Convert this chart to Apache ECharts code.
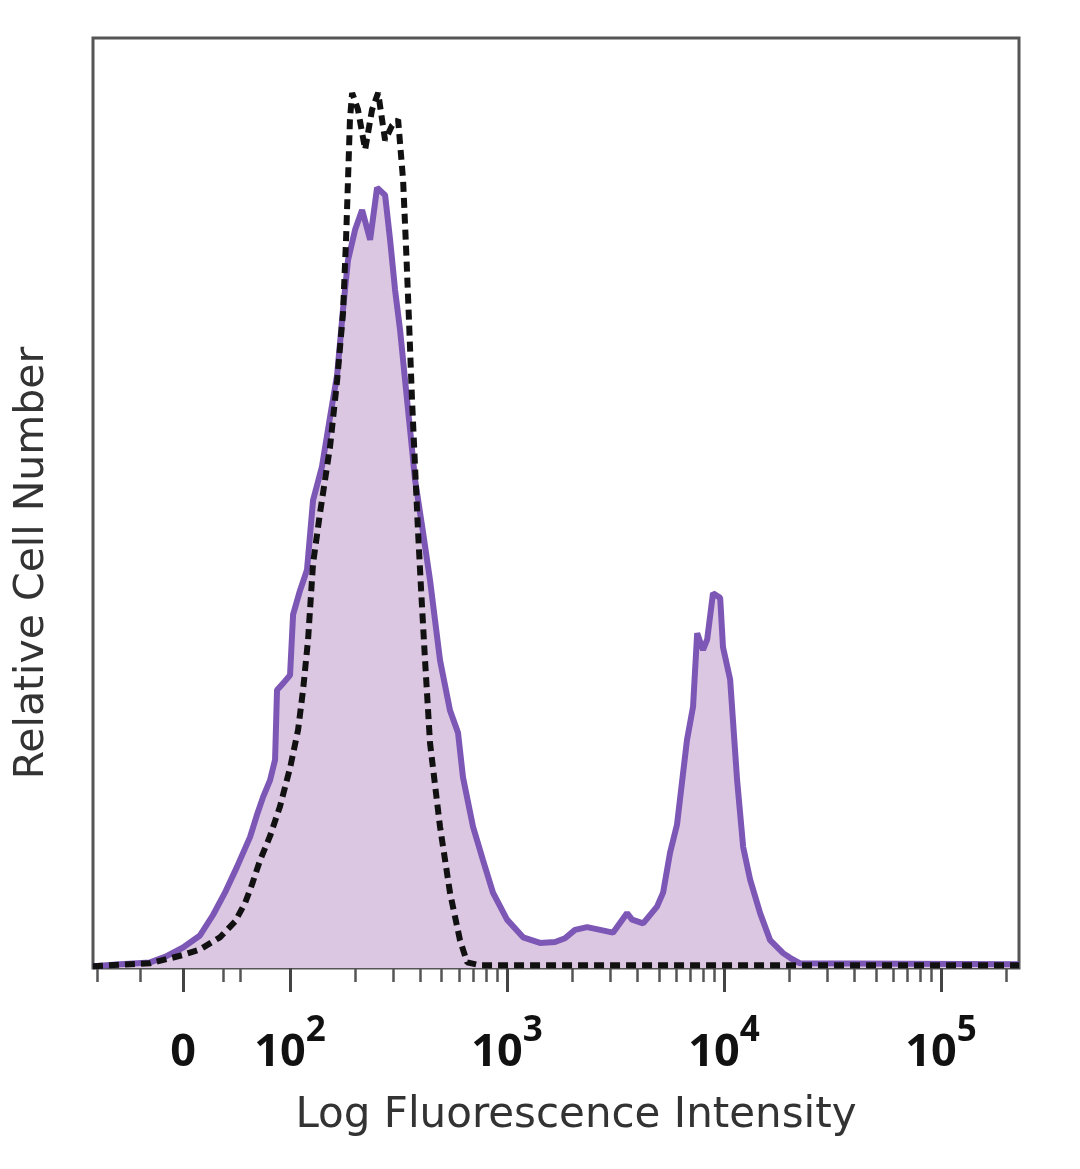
<!DOCTYPE html>
<html>
<head>
<meta charset="utf-8">
<script src="https://cdn.jsdelivr.net/npm/echarts@6/dist/echarts.min.js"></script>
<style>
  html, body { margin: 0; padding: 0; background: #fff; }
  #chart { width: 1080px; height: 1169px; }
</style>
</head>
<body>
<div id="chart"></div>
<script>
// x = display position in decades (10^2 -> 2, 10^3 -> 3 ...), y = relative cell count
const stainedX = [1.092, 1.217, 1.355, 1.424, 1.507, 1.585, 1.645, 1.700, 1.756, 1.816, 1.848, 1.876, 1.908, 1.931, 1.940, 1.968, 2.000, 2.014, 2.046, 2.078, 2.106, 2.147, 2.184, 2.217, 2.244, 2.267, 2.300, 2.332, 2.369, 2.401, 2.438, 2.461, 2.484, 2.507, 2.530, 2.553, 2.576, 2.613, 2.645, 2.691, 2.737, 2.774, 2.797, 2.843, 2.889, 2.935, 3.000, 3.074, 3.152, 3.221, 3.267, 3.313, 3.369, 3.429, 3.488, 3.553, 3.576, 3.627, 3.691, 3.719, 3.751, 3.783, 3.829, 3.857, 3.876, 3.903, 3.922, 3.949, 3.982, 3.995, 4.028, 4.060, 4.088, 4.120, 4.166, 4.212, 4.272, 4.304, 4.350, 5.359]
const stainedY = [0.2, 0.4, 0.6, 1.2, 2.2, 3.5, 5.7, 8.1, 10.9, 14.1, 16.5, 18.4, 20.2, 22.4, 29.9, 30.6, 31.5, 38.0, 40.6, 42.8, 50.3, 53.9, 59.2, 63.8, 70.8, 76.1, 79.4, 81.5, 78.3, 83.9, 83.1, 78.3, 72.9, 68.6, 63.2, 57.9, 52.5, 46.8, 41.7, 33.1, 27.7, 25.3, 20.5, 15.2, 11.6, 8.1, 5.2, 3.3, 2.7, 2.8, 3.2, 4.1, 4.4, 4.1, 3.8, 5.9, 5.2, 4.8, 6.6, 8.1, 12.4, 15.4, 24.5, 28.1, 36.0, 34.2, 35.3, 40.3, 39.8, 34.5, 31.0, 20.2, 13.0, 9.5, 5.9, 3.0, 1.6, 1.1, 0.5, 0.4]

const isotypeX = [1.092, 1.355, 1.507, 1.585, 1.677, 1.747, 1.793, 1.825, 1.862, 1.908, 1.954, 2.000, 2.037, 2.060, 2.083, 2.106, 2.138, 2.184, 2.217, 2.244, 2.258, 2.267, 2.276, 2.286, 2.313, 2.346, 2.378, 2.406, 2.438, 2.470, 2.498, 2.521, 2.535, 2.548, 2.562, 2.576, 2.590, 2.604, 2.622, 2.645, 2.691, 2.737, 2.783, 2.816, 2.876, 5.359]
const isotypeY = [0.2, 0.5, 1.4, 2.0, 3.3, 5.0, 7.0, 9.0, 11.6, 14.2, 17.4, 21.5, 25.6, 29.9, 35.3, 43.5, 48.9, 56.0, 63.2, 70.4, 78.3, 84.7, 91.2, 94.1, 92.3, 88.0, 92.3, 94.1, 89.0, 90.6, 91.2, 84.7, 77.2, 69.7, 61.1, 53.9, 46.8, 40.6, 33.1, 24.2, 15.2, 8.1, 3.0, 0.6, 0.3, 0.3]

// major ticks: 0, 10^2 .. 10^5
const tickValues = [1.507, 2, 3, 4, 5]
const tickBases = ['0', '10', '10', '10', '10']
const tickExps = ['', '2', '3', '4', '5']

// minor ticks in the linear part, then log ticks 2..9 in each decade
const minorTicks = [1.111, 1.309, 1.691, 1.770]
for (let dec = 2; dec <= 5; dec++) {
  for (let k = 2; k <= 9; k++) {
    const v = dec + Math.log10(k)
    if (v < 5.359) minorTicks.push(+v.toFixed(3))
  }
}

const X_MIN = 1.092
const X_MAX = 5.359

const toPairs = (xs, ys) => xs.map((x, i) => [x, ys[i]])

const chart = echarts.init(document.getElementById('chart'))

chart.setOption({
  animation: false,
  backgroundColor: '#fff',
  grid: {
    left: 93,
    right: 61,
    top: 38,
    bottom: 201,
    show: true,
    borderColor: '#555',
    borderWidth: 3,
    backgroundColor: 'transparent'
  },
  xAxis: [
    {
      type: 'value',
      position: 'bottom',
      min: X_MIN,
      max: X_MAX,
      splitLine: { show: false },
      axisLine: { show: false },
      axisTick: {
        show: true,
        customValues: tickValues,
        length: 24,
        lineStyle: { color: '#444', width: 3 }
      },
      axisLabel: {
        show: true,
        customValues: tickValues,
        margin: 46,
        formatter: (val) => {
          const i = tickValues.findIndex(t => Math.abs(t - val) < 1e-6)
          if (i < 0) return ''
          return tickExps[i] ? `{b|${tickBases[i]}}{s|${tickExps[i]}}` : `{b|${tickBases[i]}}`
        },
        rich: {
          b: {
            fontFamily: 'Open Sans',
            fontWeight: 'bold',
            fontSize: 45,
            color: '#111',
            lineHeight: 62,
            verticalAlign: 'bottom'
          },
          s: {
            fontFamily: 'Open Sans',
            fontWeight: 'bold',
            fontSize: 35,
            color: '#111',
            lineHeight: 62,
            verticalAlign: 'top'
          }
        }
      },
      name: 'Log Fluorescence Intensity',
      nameLocation: 'middle',
      nameGap: 127,
      nameTextStyle: {
        fontFamily: 'DejaVu Sans',
        fontSize: 42,
        color: '#333',
        padding: [0, 0, 0, 40]
      }
    },
    {
      type: 'value',
      position: 'bottom',
      min: X_MIN,
      max: X_MAX,
      splitLine: { show: false },
      axisLine: { show: false },
      axisLabel: { show: false },
      axisTick: {
        show: true,
        customValues: minorTicks,
        length: 14,
        lineStyle: { color: '#555', width: 2.5 }
      }
    }
  ],
  yAxis: {
    type: 'value',
    min: 0,
    max: 100,
    axisLine: { show: false },
    axisTick: { show: false },
    axisLabel: { show: false },
    splitLine: { show: false },
    name: 'Relative Cell Number',
    nameLocation: 'middle',
    nameRotate: 90,
    nameGap: 40,
    nameTextStyle: {
      fontFamily: 'DejaVu Sans',
      fontSize: 41,
      color: '#333',
      padding: [0, 120, 0, 0]
    }
  },
  series: [
    {
      name: 'stained',
      type: 'line',
      xAxisIndex: 0,
      symbol: 'none',
      data: toPairs(stainedX, stainedY),
      lineStyle: { color: '#7d57b5', width: 6 },
      areaStyle: { color: '#dcc7e2', opacity: 1 },
      z: 2
    },
    {
      name: 'isotype',
      type: 'line',
      xAxisIndex: 0,
      symbol: 'none',
      data: toPairs(isotypeX, isotypeY),
      lineStyle: { color: '#111', width: 6, type: [10, 6] },
      z: 3
    }
  ]
})
</script>
</body>
</html>
